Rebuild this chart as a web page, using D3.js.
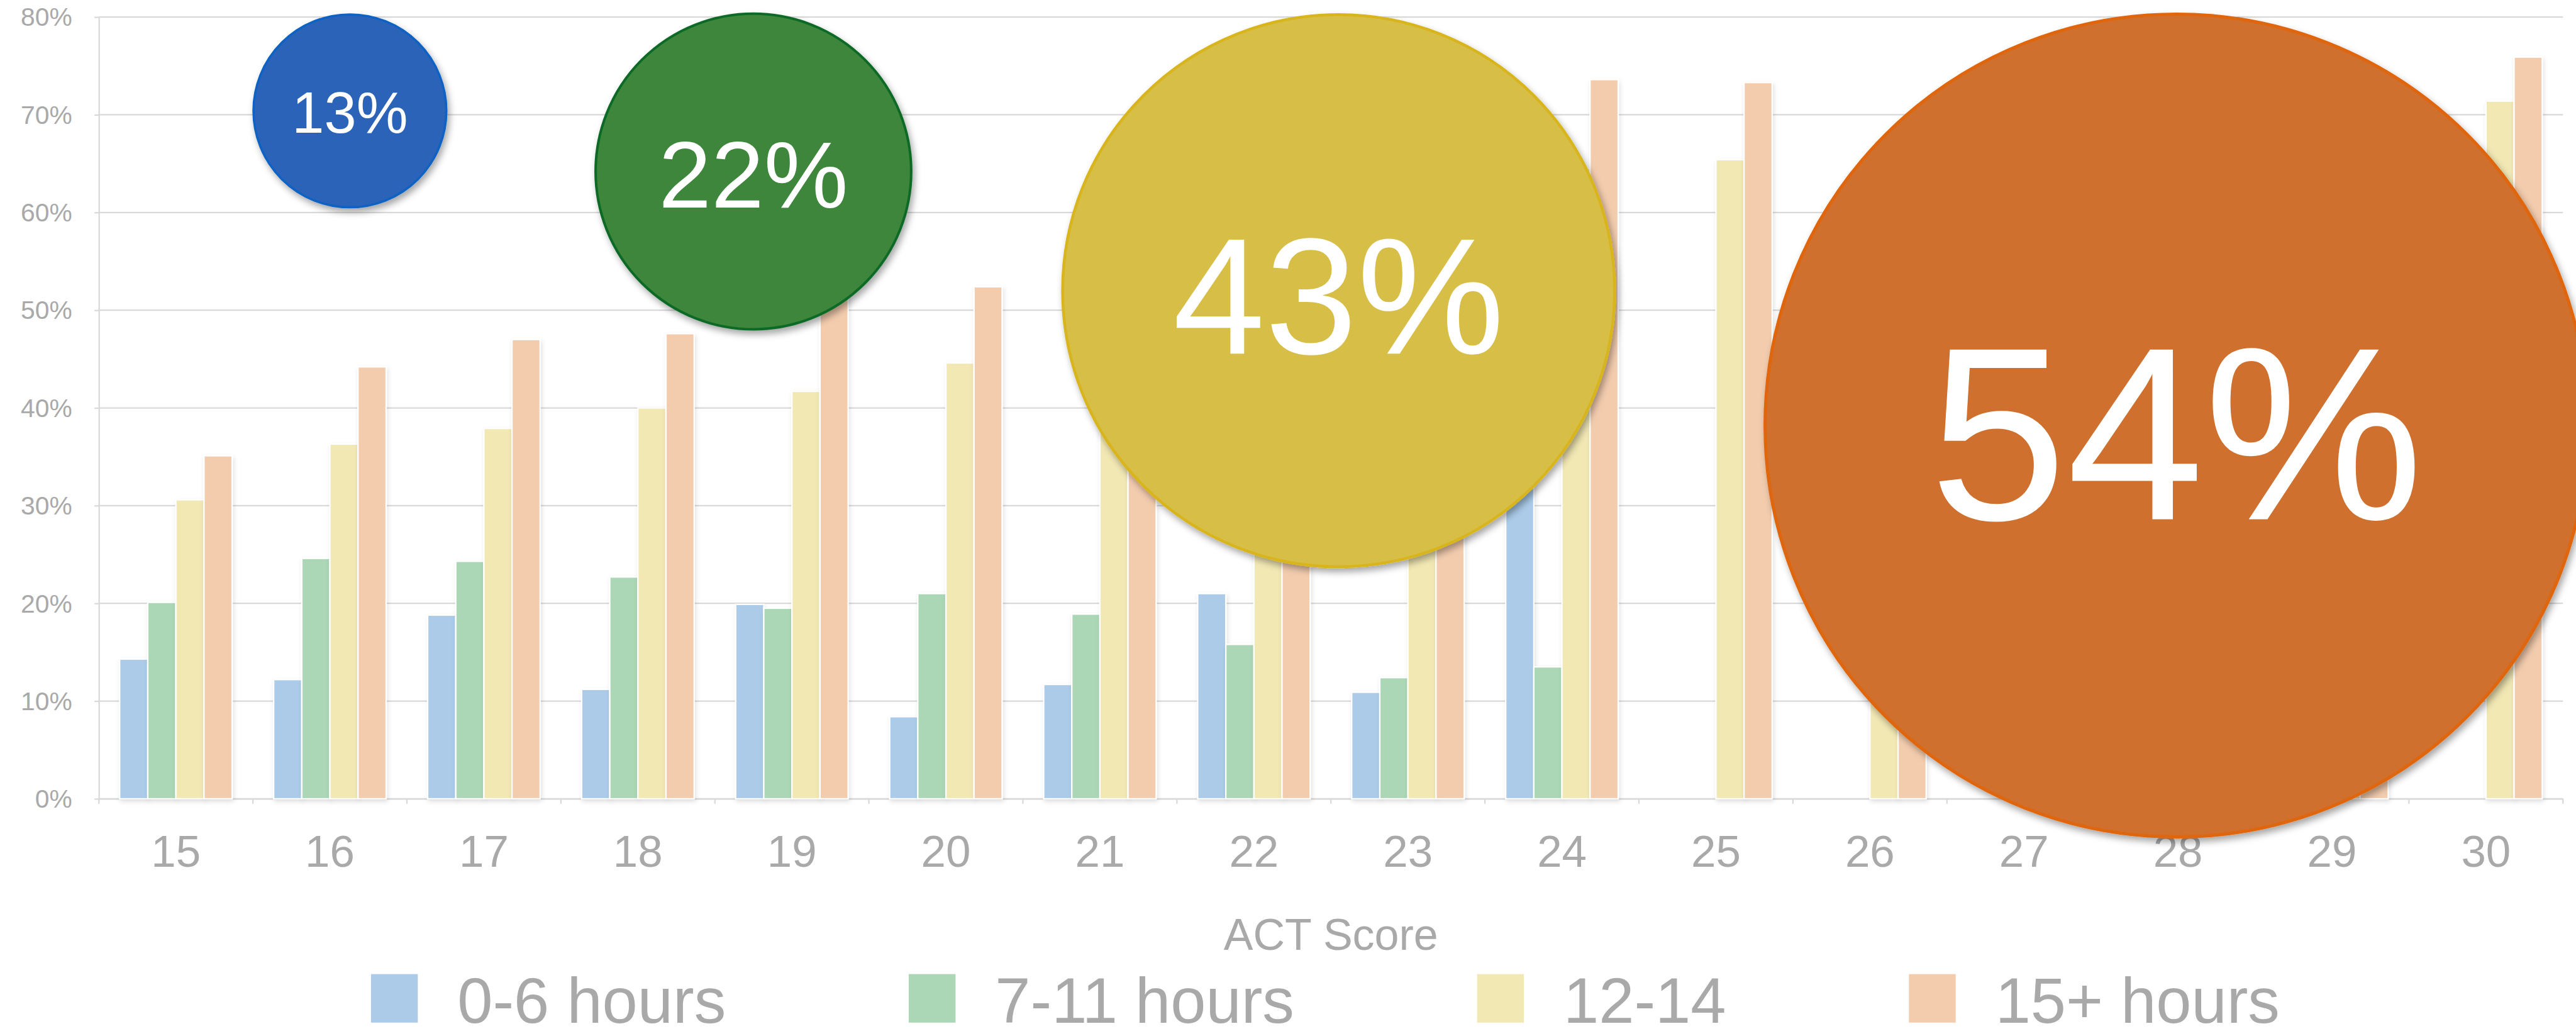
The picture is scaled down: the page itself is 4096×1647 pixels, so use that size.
<!DOCTYPE html>
<html lang="en">
<head>
<meta charset="UTF-8">
<title>ACT Score by hours</title>
<script src="https://cdn.jsdelivr.net/npm/d3@7"></script>
<style>
  body { margin: 0; background: #fff; overflow: hidden; }
  text { font-family: "Helvetica Neue", Helvetica, Arial, "Liberation Sans", sans-serif; }
</style>
</head>
<body>
<div id="viz"></div>
<script>
// data (percent of students), null = no bar
const scores = ["15", "16", "17", "18", "19", "20", "21", "22", "23", "24", "25", "26", "27", "28", "29", "30"];
const seriesNames = ["0-6 hours", "7-11 hours", "12-14", "15+ hours"];
const hours0to6  = [14.3, 12.2, 18.8, 11.2, 19.9, 8.4, 11.7, 21.0, 10.9, 34.0, null, null, null, null, null, null];
const hours7to11 = [20.1, 24.6, 24.3, 22.7, 19.5, 21.0, 18.9, 15.8, 12.4, 13.5, null, null, null, null, null, null];
const hours12to14 = [30.6, 36.3, 37.9, 40.0, 41.7, 44.6, 48.0, 55.0, 58.0, 64.5, 65.4, 55.0, 68.0, 70.0, 69.0, 71.4];
const hours15plus = [35.1, 44.2, 47.0, 47.6, 52.0, 52.4, 56.0, 64.0, 67.0, 73.6, 73.3, 66.0, 74.0, 76.0, 73.0, 75.9];
const yTicks = [0, 10, 20, 30, 40, 50, 60, 70, 80];
const bubbleLabels = ["13%", "22%", "43%", "54%"];

const seriesValues = [hours0to6, hours7to11, hours12to14, hours15plus];
const colors = ["#abcbe9", "#abd7b6", "#f2e8b4", "#f3ccae"];

// bubble placement in data units (score, percent, radius in percent points)
const bubbleLayout = [
    {score: 16.13, pct: 70.4, r: 9.87, fill: "#2b63b8", stroke: "#0b62c4"},
    {score: 18.75, pct: 64.2, r: 16.15, fill: "#3c863a", stroke: "#0e6b27"},
    {score: 22.55, pct: 52.0, r: 28.25, fill: "#d7be47", stroke: "#d8b51f"},
    {score: 27.99, pct: 38.2, r: 42.1, fill: "#cf6f2d", stroke: "#e0660e"}
];

const W = 4620, H = 1858;
const grey = "#a9a9a9";
const lineGrey = "#d9d9d9";

const svg = d3.select("#viz")
    .append("svg")
    .attr("width", 4096)
    .attr("height", 1647)
    .attr("viewBox", `0 0 ${W} ${H}`);

const defs = svg.append("defs");
defs.append("filter").attr("id", "barShadow")
    .attr("x", "-20%").attr("y", "-5%").attr("width", "150%").attr("height", "115%")
    .append("feDropShadow")
    .attr("dx", 2).attr("dy", 4).attr("stdDeviation", 4)
    .attr("flood-color", "#000").attr("flood-opacity", 0.12);
defs.append("filter").attr("id", "bubbleShadow")
    .attr("x", "-20%").attr("y", "-20%").attr("width", "150%").attr("height", "150%")
    .append("feDropShadow")
    .attr("dx", 4).attr("dy", 7).attr("stdDeviation", 6)
    .attr("flood-color", "#000").attr("flood-opacity", 0.35);

const x = d3.scaleBand()
    .domain(scores)
    .range([177, 4597])
    .paddingInner(0.27)
    .paddingOuter(0.135);

const xs = d3.scaleBand()
    .domain(seriesNames)
    .range([0, x.bandwidth()]);

const y = d3.scaleLinear()
    .domain([0, 80])
    .range([1432.6, 30.6]);

// gridlines
svg.append("g")
    .selectAll("line")
    .data(yTicks)
    .enter()
    .append("line")
    .attr("x1", x.range()[0])
    .attr("x2", x.range()[1])
    .attr("y1", d => y(d))
    .attr("y2", d => y(d))
    .attr("stroke", lineGrey)
    .attr("stroke-width", 2.5);

// y axis
const yAxis = svg.append("g")
    .attr("transform", `translate(${x.range()[0]},0)`)
    .call(d3.axisLeft(y).tickValues(yTicks).tickFormat(d => d + "%").tickSize(8).tickSizeOuter(0).tickPadding(40));
yAxis.select(".domain").attr("stroke", lineGrey).attr("stroke-width", 2.5);
yAxis.selectAll(".tick line").attr("stroke", lineGrey).attr("stroke-width", 2.5);
yAxis.selectAll(".tick text")
    .attr("fill", grey)
    .attr("font-size", 46)
    .attr("dy", "0.34em");

// x axis
const xAxis = svg.append("g")
    .attr("transform", `translate(0,${y(0)})`)
    .call(d3.axisBottom(x).tickSize(0).tickSizeOuter(0));
xAxis.select(".domain").attr("stroke", lineGrey).attr("stroke-width", 2.5);
xAxis.selectAll(".tick text")
    .attr("fill", grey)
    .attr("font-size", 80)
    .attr("y", 122)
    .attr("dy", null);

// small ticks between score groups
xAxis.append("g")
    .selectAll("line")
    .data(d3.range(scores.length + 1))
    .enter()
    .append("line")
    .attr("x1", i => x.range()[0] + i * x.step())
    .attr("x2", i => x.range()[0] + i * x.step())
    .attr("y1", 0)
    .attr("y2", 9)
    .attr("stroke", lineGrey)
    .attr("stroke-width", 2.5);

// bars
const groups = svg.append("g")
    .selectAll("g")
    .data(scores)
    .enter()
    .append("g")
    .attr("transform", d => `translate(${x(d)},0)`);

groups.selectAll("rect")
    .data((d, i) => seriesNames.map((name, k) => ({name: name, k: k, value: seriesValues[k][i]})).filter(e => e.value !== null))
    .enter()
    .append("rect")
    .attr("x", d => xs(d.name))
    .attr("y", d => y(d.value))
    .attr("width", xs.bandwidth())
    .attr("height", d => y(0) - y(d.value))
    .attr("fill", d => colors[d.k])
    .attr("stroke", "#fff")
    .attr("stroke-width", 2.5)
    .attr("filter", "url(#barShadow)");

// axis title
svg.append("text")
    .attr("x", (x.range()[0] + x.range()[1]) / 2)
    .attr("y", 1703)
    .attr("text-anchor", "middle")
    .attr("font-size", 79)
    .attr("fill", grey)
    .text("ACT Score");

// bubbles
const scoreToX = s => x(scores[0]) + x.bandwidth() / 2 + (s - (+scores[0])) * x.step();
const pxPerUnit = y(0) - y(1);

const bubbles = svg.append("g")
    .selectAll("g")
    .data(bubbleLabels)
    .enter()
    .append("g")
    .attr("transform", (d, i) => `translate(${scoreToX(bubbleLayout[i].score)},${y(bubbleLayout[i].pct)})`);

bubbles.append("circle")
    .attr("r", (d, i) => bubbleLayout[i].r * pxPerUnit)
    .attr("fill", (d, i) => bubbleLayout[i].fill)
    .attr("stroke", (d, i) => bubbleLayout[i].stroke)
    .attr("stroke-width", (d, i) => 4 + i * 0.6)
    .attr("filter", "url(#bubbleShadow)");

bubbles.append("text")
    .attr("text-anchor", "middle")
    .attr("font-size", (d, i) => bubbleLayout[i].r * pxPerUnit * 0.6)
    .attr("dy", "0.38em")
    .attr("fill", "#fff")
    .text(d => d);

// legend, centred under the plot (kept just clear of the bottom edge)
const legendBase = 1834;
const legend = svg.append("g");
const legendItems = legend.selectAll("g")
    .data(seriesNames)
    .enter()
    .append("g");

legendItems.append("rect")
    .attr("y", legendBase - 87)
    .attr("width", 84)
    .attr("height", 87)
    .attr("fill", (d, i) => colors[i]);

legendItems.append("text")
    .attr("x", 155)
    .attr("y", legendBase)
    .attr("font-size", 114)
    .attr("fill", grey)
    .text(d => d);

let offsets = [];
let cursor = 0;
legendItems.each(function () {
    offsets.push(cursor);
    const tw = d3.select(this).select("text").node().getComputedTextLength();
    cursor += 155 + tw + 328;
});
const totalW = cursor - 328;
const legendStart = 2377 - totalW / 2;
legendItems.attr("transform", (d, i) => `translate(${legendStart + offsets[i]},0)`);
</script>
</body>
</html>
